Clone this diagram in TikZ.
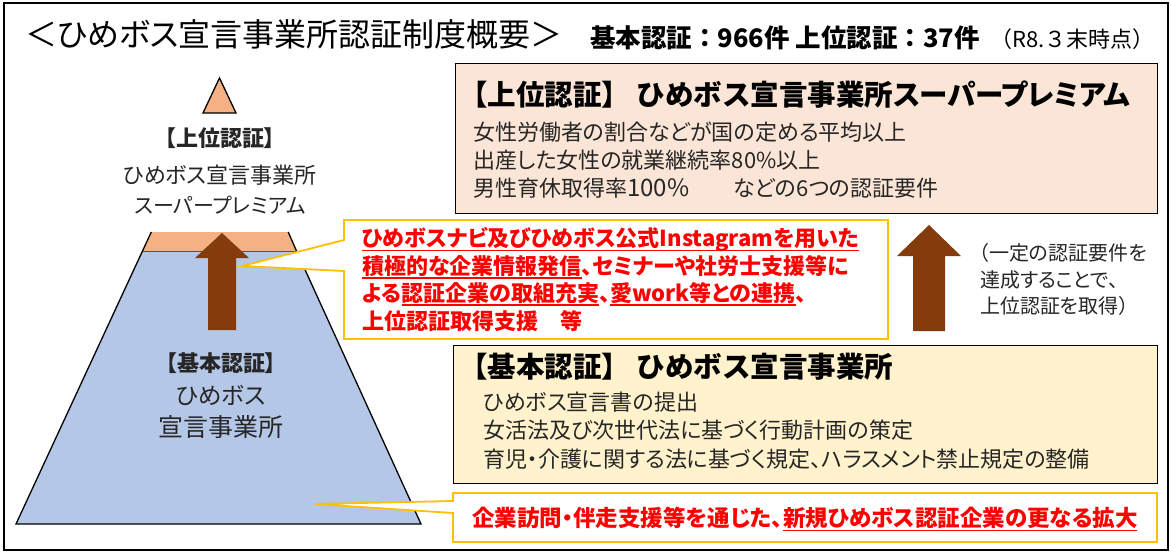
\documentclass[tikz,border=0pt]{standalone}
\usepackage{fontspec}
\setmainfont{Noto Sans CJK JP}
\newfontfamily\jpp[RawFeature=+palt]{Noto Sans CJK JP}
\definecolor{pyrorange}{HTML}{F4B183}
\definecolor{pyrblue}{HTML}{B4C7E7}
\definecolor{brownarrow}{HTML}{843C0C}
\definecolor{peach}{HTML}{FBE5D6}
\definecolor{cream}{HTML}{FFF2CC}
\definecolor{callyellow}{HTML}{FFC000}
\definecolor{redtext}{HTML}{FF0000}
\definecolor{bodytext}{HTML}{262626}
\newcommand{\uln}[1]{\setbox0\hbox{#1}\rlap{\rule[-0.2em]{\wd0}{0.065em}}\box0}
\tikzset{
  lbl/.style={inner sep=0pt, anchor=west, text=bodytext},
  ctr/.style={inner sep=0pt, text=bodytext},
  boxA/.style={draw=black, line width=1.3pt, inner sep=0pt, anchor=north west},
  callout/.style={draw=callyellow, line width=1.8pt, fill=white, line join=miter},
  redl/.style={inner sep=0pt, anchor=west, text=redtext, font=\jpp\bfseries\fontsize{22}{26}\selectfont},
  arr/.style={fill=brownarrow, draw=none},
  body/.style={font=\jpp\fontsize{22}{28}\selectfont},
  heads/.style={font=\rmfamily\bfseries\fontsize{28.5}{32}\selectfont},
  note/.style={font=\jpp\fontsize{20}{26}\selectfont}
}
\begin{document}
\begin{tikzpicture}[x=1pt,y=-1pt]
\useasboundingbox[fill=white] (0,0) rectangle (1171,552);
\draw[line width=1.5pt] (4,3) rectangle (1168,550);

% header
\node[lbl, text=black, font=\jpp\fontsize{32}{38}\selectfont] (title) at (25,34) {＜ひめボス宣言事業所認証制度概要＞};
\node[lbl, text=black, font=\bfseries\fontsize{25.5}{30}\selectfont] (count) at (590,38) {基本認証：966件 上位認証：37件};
\node[lbl, text=black, font=\fontsize{22}{26}\selectfont] (time) at (990,39) {（R8.３末時点）};

% pyramid
\fill[pyrblue] (142.5,251) -- (296.5,251) -- (421,524) -- (16,524) -- cycle;
\draw[line width=1.3pt, line join=miter] (142.5,251) -- (296.5,251) -- (421,524) -- (16,524) -- cycle;
\fill[pyrorange] (151.3,232) -- (288.2,232) -- (296.5,251) -- (142.5,251) -- cycle;
\draw[line width=1.3pt] (151.3,232) -- (142.5,251);
\draw[line width=1.3pt] (288.2,232) -- (296.5,251);
\draw[fill=pyrorange, line width=1.3pt, line join=miter] (219.5,78) -- (236,113) -- (203,113) -- cycle;
\fill[arr] (222,233) -- (249,258) -- (236,258) -- (236,330) -- (208,330) -- (208,258) -- (195,258) -- cycle;

\node[ctr, font=\jpp\bfseries\fontsize{22}{26}\selectfont] (upT) at (220,138) {【上位認証】};
\node[ctr, font=\jpp\fontsize{22}{28}\selectfont] (up1) at (220,175) {ひめボス宣言事業所};
\node[ctr, font=\jpp\fontsize{21}{28}\selectfont] (up2) at (220,205) {スーパープレミアム};
\node[ctr, font=\jpp\bfseries\fontsize{22}{26}\selectfont] (bsT) at (221,363) {【基本認証】};
\node[ctr, font=\jpp\fontsize{23.5}{30}\selectfont] (bs1) at (221,395) {ひめボス};
\node[ctr, font=\jpp\fontsize{25}{30}\selectfont] (bs2) at (221,427) {宣言事業所};

% upper box
\node[boxA, fill=peach, minimum width=702pt, minimum height=150pt] (upbox) at (455,63) {};
\node[lbl, heads, text=black] (upH) at (459,95) {【上位認証】 ひめボス宣言事業所{\jpp スーパープレミアム}};
\node[lbl, body] (u1) at (473,132) {女性労働者の割合などが国の定める平均以上};
\node[lbl, body] (u2) at (473,160) {出産した女性の就業継続率80\%以上};
\node[lbl, body] (u3) at (473,188) {男性育休取得率{\fontsize{24}{28}\selectfont 100\%}　　などの6つの認証要件};

% right arrow + note
\fill[arr] (929,225) -- (961,256) -- (945,256) -- (945,331) -- (913,331) -- (913,256) -- (897,256) -- cycle;
\node[lbl, note] (n1) at (969,253) {{\rmfamily（}一定の認証要件を};
\node[lbl, note] (n2) at (980,280) {達成することで、};
\node[lbl, note] (n3) at (980,306) {上位認証を取得{\rmfamily ）}};

% lower box
\node[boxA, fill=cream, minimum width=704pt, minimum height=138pt] (bsbox) at (453,345) {};
\node[lbl, heads, text=black] (bsH) at (459,367) {【基本認証】 ひめボス宣言事業所};
\node[lbl, body] (b1) at (483,402) {ひめボス宣言書の提出};
\node[lbl, body] (b2) at (483,430) {女活法及び次世代法に基づく行動計画の策定};
\node[lbl, body] (b3) at (483,459) {育児・介護に関する法に基づく規定、ハラスメント禁止規定の整備};

% callout 1
\coordinate (tip1) at (242,266);
\draw[callout] (344,220) -- (888,220) -- (888,339) -- (344,339) -- (344,271) -- (tip1) -- (344,240) -- cycle;
\node[redl] (c1) at (362,240) {\uln{ひめボスナビ及びひめボス公式Instagramを用いた}};
\node[redl] (c2) at (362,267) {\uln{積極的な企業情報発信}、セミナーや社労士支援等に};
\node[redl] (c3) at (362,294) {よる\uln{認証企業の取組充実}、\uln{愛work等との連携}、};
\node[redl] (c4) at (362,321) {上位認証取得支援　等};

% callout 2
\coordinate (tip2) at (315,504);
\draw[callout] (453,493) -- (1157,493) -- (1157,542) -- (453,542) -- (453,513) -- (tip2) -- (453,501) -- cycle;
\node[redl, font=\jpp\bfseries\fontsize{22.5}{26}\selectfont] (c5) at (472,519) {企業訪問・伴走支援等を通じた、\uln{新規ひめボス認証企業の更なる拡大}};
\end{tikzpicture}
\end{document}
